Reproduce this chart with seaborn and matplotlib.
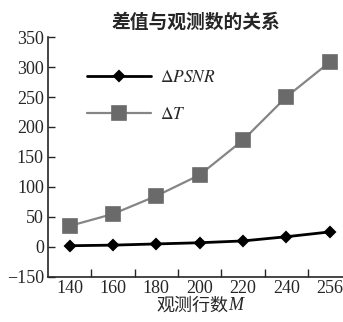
import matplotlib
matplotlib.use("Agg")
import matplotlib.pyplot as plt
import seaborn as sns
import pandas as pd

# data
rows_m = ["140", "160", "180", "200", "220", "240", "256"]
delta_psnr = [2, 3, 5, 7, 10, 17, 25]
delta_t = [35, 55, 85, 120, 178, 250, 308]
y_ticks = [-50, 0, 50, 100, 150, 200, 250, 300, 350]
y_tick_labels = ["\u2212150", "0", "50", "100", "150", "200", "250", "300", "350"]

sns.set_style("ticks")
plt.rcParams["font.family"] = ["Liberation Serif", "Noto Sans CJK SC"]
plt.rcParams["mathtext.fontset"] = "stix"

df = pd.DataFrame({"M": rows_m, "psnr": delta_psnr, "t": delta_t})

fig = plt.figure(figsize=(3.43, 3.22), dpi=100)
ax = fig.add_axes([0.14, 0.14, 0.86, 0.745])

sns.pointplot(data=df, x="M", y="t", color="#858585", marker="s",
              markersize=10, linewidth=1.6, label=r"$\Delta T$", ax=ax,
              markerfacecolor="#6a6a6a", markeredgecolor="#6a6a6a")
sns.pointplot(data=df, x="M", y="psnr", color="black", marker="D",
              markersize=5.5, linewidth=2, label=r"$\Delta \mathit{PSNR}$", ax=ax)

ax.set_xlim(-0.5, 6.31)
ax.set_ylim(-50, 350)
ax.set_yticks(y_ticks)
ax.set_yticklabels(y_tick_labels)
ax.set_xticks(range(len(rows_m)))
ax.set_xticklabels(rows_m)
ax.set_xticks([i + 0.5 for i in range(len(rows_m) - 1)], minor=True)
ax.tick_params(axis="x", which="major", length=0, labelsize=13, pad=2)
ax.tick_params(axis="x", which="minor", direction="in", length=6, width=1)
ax.tick_params(axis="y", direction="in", length=5, width=1, labelsize=13, pad=3)
for s in ["left", "bottom"]:
    ax.spines[s].set_linewidth(1.2)
sns.despine(ax=ax)

# x label: Chinese text plus an italic M next to it
xlab = ax.set_xlabel("观测行数", fontsize=13, labelpad=1)
xlab.set_x(0.49)
ax.annotate("M", xy=(1, 0), xycoords=xlab, ha="left", va="bottom",
            fontsize=13, style="italic", xytext=(0, 0.5), textcoords="offset points")
ax.set_ylabel("")
ax.set_title("差值与观测数的关系", fontsize=13.5, pad=7, fontweight="bold")

handles, labels = ax.get_legend_handles_labels()
order = [labels.index(r"$\Delta \mathit{PSNR}$"), labels.index(r"$\Delta T$")]
ax.legend([handles[i] for i in order], [labels[i] for i in order],
          loc="upper left", bbox_to_anchor=(0.08, 0.93), frameon=False,
          fontsize=12.5, handlelength=3.7, labelspacing=1.2, handletextpad=0.5)

fig.savefig("out.png", dpi=100)
